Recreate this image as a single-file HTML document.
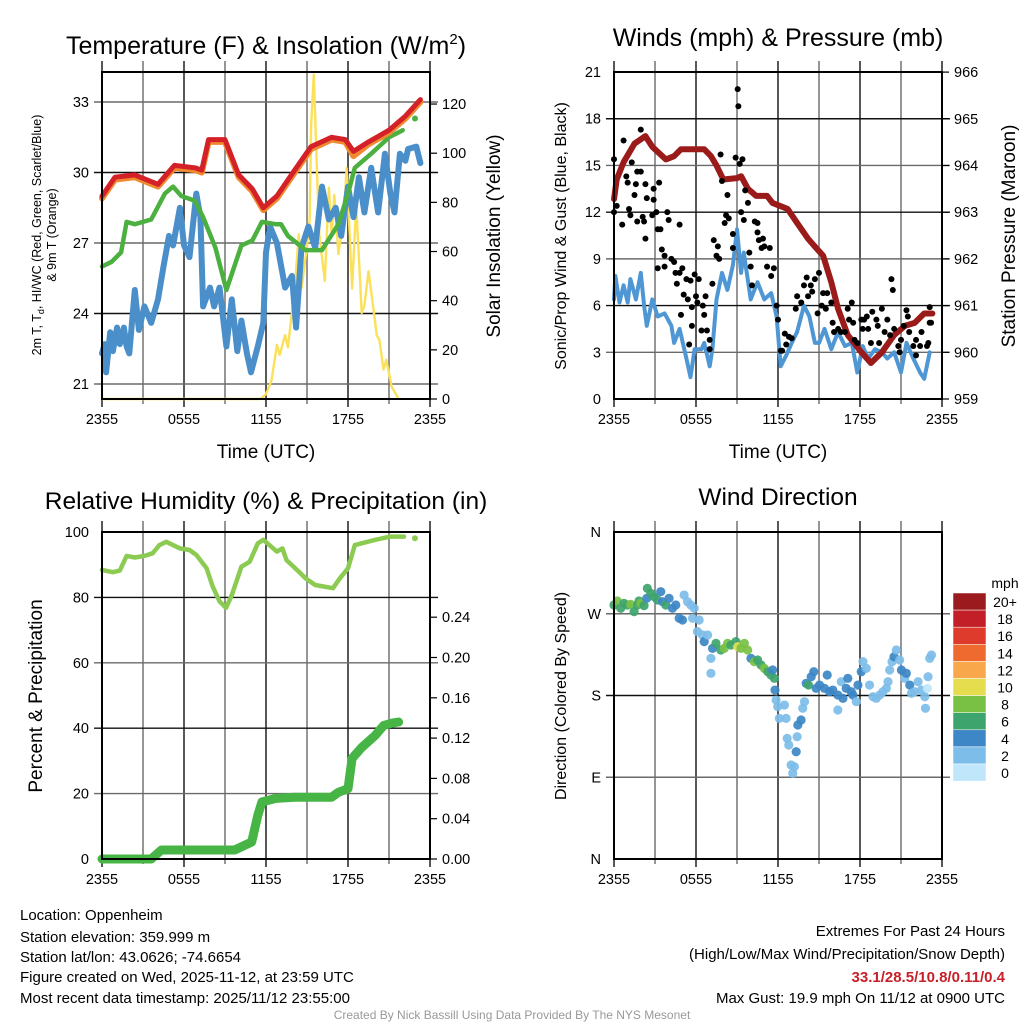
<!DOCTYPE html>
<html><head><meta charset="utf-8"><title>Station Meteogram</title>
<style>
html,body{margin:0;padding:0;background:#fff;}
svg{display:block;font-family:"Liberation Sans",Arial,sans-serif;}
</style></head>
<body>
<svg id="chart" xmlns="http://www.w3.org/2000/svg" width="1024" height="1024" viewBox="0 0 1024 1024">
<rect x="0" y="0" width="1024" height="1024" fill="#fff"/>
<g id="plots"></g>

<!-- titles -->
<text x="266" y="54" font-size="25" text-anchor="middle">Temperature (F) &amp; Insolation (W/m<tspan font-size="15" dy="-10">2</tspan><tspan dy="10">)</tspan></text>
<text x="778" y="46" font-size="25" text-anchor="middle">Winds (mph) &amp; Pressure (mb)</text>
<text x="266" y="509" font-size="24.5" text-anchor="middle">Relative Humidity (%) &amp; Precipitation (in)</text>
<text x="778" y="505" font-size="24.5" text-anchor="middle">Wind Direction</text>

<!-- x axis titles -->
<text x="266" y="458" font-size="19" text-anchor="middle">Time (UTC)</text>
<text x="778" y="458" font-size="19" text-anchor="middle">Time (UTC)</text>

<!-- y axis titles -->
<text transform="translate(41,235) rotate(-90)" font-size="12.5" text-anchor="middle">2m T, T<tspan font-size="9" dy="3">d</tspan><tspan dy="-3">, HI/WC (Red, Green, Scarlet/Blue)</tspan></text>
<text transform="translate(56,235) rotate(-90)" font-size="12.5" text-anchor="middle">&amp; 9m T (Orange)</text>
<text transform="translate(500,236) rotate(-90)" font-size="19" text-anchor="middle">Solar Insolation (Yellow)</text>
<text transform="translate(566,236) rotate(-90)" font-size="16" text-anchor="middle">Sonic/Prop Wind &amp; Gust (Blue, Black)</text>
<text transform="translate(1015,236) rotate(-90)" font-size="19" text-anchor="middle">Station Pressure (Maroon)</text>
<text transform="translate(42,696) rotate(-90)" font-size="19" text-anchor="middle">Percent &amp; Precipitation</text>
<text transform="translate(566,696) rotate(-90)" font-size="16" text-anchor="middle">Direction (Colored By Speed)</text>

<!-- colorbar label -->
<text x="1005" y="588" font-size="14" text-anchor="middle">mph</text>

<!-- info text -->
<g font-size="15">
<text x="20" y="920">Location: Oppenheim</text>
<text x="20" y="942">Station elevation: 359.999 m</text>
<text x="20" y="962">Station lat/lon: 43.0626; -74.6654</text>
<text x="20" y="982">Figure created on Wed, 2025-11-12, at 23:59 UTC</text>
<text x="20" y="1003">Most recent data timestamp: 2025/11/12 23:55:00</text>
</g>
<g font-size="15" text-anchor="end">
<text x="1005" y="936">Extremes For Past 24 Hours</text>
<text x="1005" y="959">(High/Low/Max Wind/Precipitation/Snow Depth)</text>
<text x="1005" y="982" fill="#c8202a" font-weight="bold">33.1/28.5/10.8/0.11/0.4</text>
<text x="1005" y="1003">Max Gust: 19.9 mph On 11/12 at 0900 UTC</text>
</g>
<text x="512" y="1019" font-size="12" fill="#999" text-anchor="middle">Created By Nick Bassill Using Data Provided By The NYS Mesonet</text>

<script>
// ---------- DATA ----------
const xTickLabels = ['2355','0555','1155','1755','2355'];
const xTickHours = [0,6,12,18,24];

const tempTicks = [21,24,27,30,33];
const solarTicks = [0,20,40,60,80,100,120];
const windTicks = [0,3,6,9,12,15,18,21];
const presTicks = [959,960,961,962,963,964,965,966];
const rhTicks = [0,20,40,60,80,100];
const precipTickLabels = ['0.00','0.04','0.08','0.12','0.16','0.20','0.24'];
const dirTickLabels = ['N','E','S','W','N'];
const dirTickValues = [0,90,180,270,360];
const speedBins = ['0','2','4','6','8','10','12','14','16','18','20+'];
const speedColors = ['#bfe6fa','#7dbde9','#3d87c6','#3ea46d','#78c144','#e6dd4e','#f8a84a','#ee6a2e','#df3b2d','#c21f28','#9a1a1e'];

const tHours = [0,0.95,2.4,4.1,5.3,6.8,7.3,7.8,9.0,10.0,11.0,11.8,12.8,14.1,15.3,16.8,17.8,18.4,19.5,21.0,22.2,23.3];
const tValues = [29.0,29.8,29.9,29.5,30.3,30.2,30.1,31.4,31.4,29.9,29.3,28.5,29.0,30.1,31.1,31.5,31.4,30.9,31.3,31.8,32.4,33.1];
const t9Values = [28.9,29.7,29.8,29.4,30.2,30.1,30.0,31.3,31.3,29.8,29.2,28.4,28.9,30.0,31.0,31.4,31.3,30.7,31.2,31.7,32.3,33.0];

const hiHours = [0,0.7,1.4,1.8,2.4,3.6,4.6,5.2,5.8,6.8,7.4,8.3,9.1,10.2,11.0,11.7,12.7,13.1,13.6,14.9,16.1,17.3,18.0,18.5,19.7,21.0,22.0,22.9];
const hiValues = [26.0,26.2,26.6,27.9,27.8,28.0,29.1,29.4,29.0,28.8,28.1,26.8,25.0,26.9,27.1,27.9,27.8,27.8,27.3,26.7,26.7,27.8,29.1,30.2,30.8,31.5,31.8,32.3];

const tdHours = [0,0.2,0.3,0.6,0.8,1.1,1.3,1.6,1.8,2.0,2.4,2.7,3.1,3.6,4.1,4.5,4.9,5.2,5.7,6.0,6.4,6.9,7.2,7.4,7.9,8.2,8.6,9.1,9.5,9.9,10.2,10.6,10.9,11.4,11.8,12.0,12.3,12.8,13.4,13.9,14.2,14.6,15.1,15.6,16.1,16.6,17.1,17.5,18.0,18.4,18.8,19.2,19.7,20.2,20.7,21.1,21.4,21.8,22.2,22.4,23.0,23.3];
const tdValues = [22.3,22.7,21.5,23.2,22.4,23.4,22.7,23.4,22.6,22.3,25.0,23.3,24.3,23.6,24.6,26.0,27.3,26.9,28.5,26.9,26.4,29.1,28.1,24.3,25.1,24.3,25.1,22.6,24.6,22.4,23.7,22.3,21.5,22.6,23.6,26.6,27.7,27.0,25.1,25.6,23.4,26.8,27.7,26.8,29.4,28.0,28.5,27.3,29.4,28.1,29.8,28.3,30.2,28.3,30.8,29.1,28.3,30.8,30.5,31.0,31.1,30.4];

const solarHours = [0,11.6,12.0,12.4,12.8,13.0,13.4,13.6,14.1,14.4,14.6,15.0,15.2,15.3,15.5,15.7,15.9,16.3,16.6,16.8,17.0,17.3,17.7,17.9,18.3,18.6,19.0,19.2,19.5,19.9,20.1,20.3,20.6,20.8,21.2,21.7];
const solarValues = [0,0,2,7.5,22,18,26,21,45,67,45,62,73,111,132,97,67,48,86,67,83,59,74,94,45,79,35,38,52,35,26,24,12,16,5,0];

const windHours = [0,0.1,0.4,0.7,1.0,1.2,1.6,1.96,2.2,2.4,2.8,3.2,3.7,4.2,4.4,4.8,5.3,5.6,5.9,6.4,6.6,7.0,7.2,7.5,7.9,8.3,8.7,9.0,9.3,9.5,10.0,10.5,11.0,11.5,11.9,12.2,12.6,13.0,13.4,13.9,14.3,14.7,15.0,15.4,15.9,16.4,16.9,17.4,17.8,18.2,18.6,19.1,19.6,20.0,20.5,21.0,21.4,21.9,22.4,22.7,23.1];
const windValues = [6.4,7.9,6.2,7.3,6.2,7.7,6.4,8.1,6.0,4.7,6.4,5.3,5.5,4.7,3.6,4.5,2.6,1.4,3.2,3.2,3.6,2.1,3.2,6.4,8.1,7.0,8.6,10.9,8.1,9.4,6.4,7.5,6.4,6.8,5.3,2.1,2.8,3.6,4.3,6.0,5.3,3.6,3.6,4.5,3.2,4.3,3.4,3.6,1.7,3.4,2.6,3.2,3.0,2.6,3.0,1.7,3.6,2.6,1.7,1.3,3.0];

const gustHours = [0,0,0.2,0.6,0.7,0.9,1.0,1.1,1.2,1.3,1.5,1.6,1.7,1.7,1.96,1.96,2.1,2.2,2.3,2.3,2.4,2.8,2.9,2.9,3.1,3.2,3.2,3.3,3.4,3.5,3.7,3.7,3.9,4.0,4.2,4.4,4.5,4.6,4.8,4.8,4.9,5.0,5.1,5.3,5.4,5.5,5.6,5.7,5.7,5.9,6.0,6.1,6.2,6.4,6.5,6.6,6.7,6.8,7.0,7.0,7.2,7.3,7.5,7.6,7.7,7.8,7.9,8.1,8.2,8.3,8.4,8.7,8.7,8.9,9.05,9.1,9.2,9.3,9.4,9.5,9.6,9.8,9.9,10.0,10.1,10.3,10.5,10.5,10.6,10.8,10.9,11.0,11.2,11.4,11.5,11.7,11.9,12.0,12.2,12.3,12.5,12.6,12.8,13.0,13.3,13.4,13.7,13.9,14.1,14.2,14.4,14.5,14.7,14.9,15.0,15.2,15.3,15.5,15.6,15.9,16.0,16.1,16.4,16.6,16.9,17.1,17.2,17.4,17.5,17.6,17.8,18.1,18.2,18.3,18.5,18.6,18.8,18.9,19.2,19.3,19.4,19.6,19.8,20.0,20.2,20.3,20.4,20.5,20.8,20.9,21.0,21.2,21.4,21.5,21.6,21.9,22.1,22.1,22.4,22.5,22.9,23.0,23.1,23.1,23.2];
const gustValues = [15.4,12.0,12.4,11.2,16.6,14.3,13.9,12.2,11.8,15.2,13.1,13.8,14.6,11.4,17.3,14.6,11.7,11.4,10.3,13.8,12.9,11.8,13.5,12.8,12.0,10.9,8.4,13.9,10.9,9.6,9.2,8.5,12.0,11.5,9.0,8.8,8.1,7.4,11.2,8.1,5.4,8.4,6.7,7.7,6.4,3.5,7.6,5.9,4.7,8.0,6.6,6.2,7.7,4.4,6.0,5.4,6.6,4.4,3.8,3.2,7.4,10.2,9.2,9.8,9.0,15.7,14.0,11.3,11.8,13.1,11.6,10.6,9.7,15.5,19.9,18.8,15.1,12.0,15.4,11.5,13.4,12.6,9.4,8.5,7.3,11.4,11.3,10.7,10.2,9.7,10.3,9.8,8.5,9.7,7.9,8.4,6.0,5.1,3.1,3.1,4.2,3.5,4.0,3.9,5.8,6.6,6.2,7.3,7.8,6.6,7.3,6.9,7.7,5.5,8.1,6.0,6.8,5.8,6.8,6.2,4.9,4.3,4.5,4.3,4.3,5.8,5.1,6.2,4.9,3.8,3.6,5.1,4.5,5.1,5.3,4.5,3.6,5.6,5.1,4.7,3.6,5.8,4.3,5.1,4.1,7.7,7.0,4.5,3.4,3.0,3.8,4.7,5.7,5.3,4.3,3.4,3.8,2.8,3.4,4.3,3.4,3.6,5.9,4.9,4.9];

const presHours = [0,0.2,0.7,1.5,2.3,2.8,3.8,4.4,4.9,5.9,6.6,7.1,7.5,8.0,9.0,9.3,9.8,10.4,11.2,11.6,12.7,13.4,14.2,14.9,15.3,15.9,16.4,17.1,18.1,18.8,19.6,20.5,21.3,22.0,22.7,23.3];
const presValues = [963.28,963.7,964.07,964.47,964.63,964.4,964.13,964.2,964.35,964.35,964.35,964.2,964.0,963.7,963.73,963.77,963.5,963.35,963.35,963.2,963.07,962.77,962.43,962.2,962.07,961.5,960.93,960.37,960.0,959.77,960.0,960.37,960.57,960.63,960.83,960.83];

const rhHours = [0,0.8,1.3,1.8,2.4,3.1,3.7,4.2,4.7,5.7,6.4,6.9,7.65,8.1,8.6,9.07,9.5,10.2,10.8,11.4,11.8,12.8,13.2,13.5,14.4,14.9,15.6,16.9,17.4,18.0,18.5,20.0,21.1,22.1];
const rhValues = [88.4,87.7,88.2,92.7,92.2,92.7,93.5,96.0,97.0,95.0,94.5,93.0,88.9,83.3,78.8,76.8,80.7,89.4,90.9,96.5,97.6,94.0,95.0,91.4,87.9,85.8,83.8,82.8,85.8,88.9,96.0,97.6,98.6,98.6];
const rhLastHour = [22.9];
const rhLastValue = [98.1];

const precipHours = [0,3.6,4.35,9.7,10.95,11.4,11.7,12.7,14.1,16.8,17.3,18.0,18.3,19.0,20.0,20.6,21.2,21.7];
const precipValues = [0,0,0.0074,0.0074,0.014,0.036,0.047,0.050,0.051,0.051,0.055,0.058,0.083,0.092,0.102,0.110,0.112,0.113];

const dirHours = [0,0.24,0.49,0.73,0.98,1.22,1.47,1.71,1.83,1.96,2.2,2.4,2.44,2.69,2.93,3.18,3.42,3.55,3.79,4.03,4.28,4.52,4.77,5.01,5.13,5.38,5.62,5.87,5.75,6.23,6.11,6.48,6.6,6.85,7.09,7.09,7.21,7.46,7.82,8.07,8.31,8.56,8.92,9.05,9.29,9.54,9.78,10.02,10.27,10.51,10.76,11.0,11.25,11.49,11.61,11.74,11.78,11.86,11.98,12.1,12.47,12.59,12.67,12.79,12.96,13.08,13.2,13.33,13.4,13.45,13.69,13.81,13.94,14.06,14.23,14.43,14.62,14.79,15.04,15.4,15.6,15.77,16.01,16.38,16.38,16.63,16.75,16.99,17.11,17.36,17.48,17.73,17.85,18.09,18.22,18.46,18.7,18.95,19.19,19.44,19.68,19.93,20.05,20.17,20.34,20.49,20.66,20.9,21.03,21.27,21.39,21.64,21.76,22.0,22.25,22.49,22.74,22.79,22.93,22.98,23.1,23.23];
const dirValues = [279.6,284.0,276.0,281.5,279.6,280.4,272.3,279.6,284.0,281.5,278.9,287.0,298.0,292.5,288.8,285.1,294.3,283.3,279.6,287.0,276.0,279.6,265.0,263.1,290.6,283.3,279.6,276.0,265.0,263.1,250.3,246.6,239.3,246.6,220.9,204.4,231.9,237.4,230.1,231.9,237.4,235.6,239.3,233.7,231.9,237.4,230.1,220.9,217.2,219.1,213.6,209.9,206.2,202.6,208.1,198.9,186.0,175.0,167.7,154.8,169.5,154.8,132.8,125.5,103.5,94.3,101.6,118.1,134.6,147.5,153.0,165.9,173.2,193.4,191.5,200.7,206.2,187.9,191.5,187.9,202.6,184.2,186.0,180.5,164.0,195.2,176.9,187.9,198.9,184.2,180.5,173.2,191.5,206.2,217.2,209.9,191.5,178.7,176.9,180.5,184.2,187.9,195.2,208.1,217.2,222.7,230.1,219.1,208.1,198.9,204.4,191.5,182.4,184.2,195.2,186.0,178.7,165.9,187.9,200.7,220.9,224.6];
const dirSpeeds = [6,8,6,6,6,8,6,6,6,8,6,4,6,6,6,6,4,4,6,4,4,4,4,4,2,2,2,2,2,2,2,2,4,2,2,2,4,6,6,8,8,6,6,10,8,8,8,4,8,6,6,8,6,6,4,6,4,2,2,2,2,2,2,2,2,2,2,4,2,4,4,2,2,4,6,4,4,4,4,4,4,4,4,4,2,2,4,4,4,4,4,2,4,4,2,2,2,2,2,2,2,2,2,2,2,4,2,2,4,2,4,4,2,2,2,2,2,2,0,2,2,2];

// ---------- GEOMETRY / SCALES ----------
const NS = 'http://www.w3.org/2000/svg';
const root = document.getElementById('plots');
function mk(tag, attrs, parent) {
  const e = document.createElementNS(NS, tag);
  for (const k in attrs) e.setAttribute(k, attrs[k]);
  (parent || root).appendChild(e);
  return e;
}
const P1 = {x0:102, x1:430, y0:72, y1:399};
const P2 = {x0:614, x1:942, y0:72, y1:399};
const P3 = {x0:102, x1:430, y0:532, y1:859};
const P4 = {x0:614, x1:942, y0:532, y1:859};
function xs(P, h) { return P.x0 + h * (P.x1 - P.x0) / 24; }
const yTemp = t => 102 + (33 - t) * 23.5;
const ySolar = s => 399 - s * 2.458;
const yWind = w => 399 - w * 15.57;
const yPres = p => 399 - (p - 959) * 46.7;
const yRH = r => 859 - r * 3.27;
const yPrecip = p => 859 - p / 0.04 * 48.5;
const yDir = d => 859 - d / 360 * 327;

function pathFrom(P, hours, vals, yf) {
  let d = '';
  for (let i = 0; i < hours.length; i++) {
    d += (i ? 'L' : 'M') + xs(P, hours[i]).toFixed(1) + ',' + yf(vals[i]).toFixed(1);
  }
  return d;
}

// ---------- GRID / FRAME ----------
function drawGrid(P, name, hYs) {
  const g = mk('g', {});
  
  
  for (let i = 0; i <= 8; i++) {
    const x = P.x0 + i * (P.x1 - P.x0) / 8;
    const l = mk('line', {x1:x, x2:x, y1:P.y0 - 11, y2:P.y1 + (i % 2 === 0 ? 8 : 5), stroke:(i % 2 ? '#6a6a6a' : '#111'), 'stroke-width':1.4}, g);
    
    
  }
  hYs.forEach((y, i) => {
    const l = mk('line', {x1:P.x0 - 8, x2:P.x1 + 8, y1:y, y2:y, stroke:(i % 2 ? '#111' : '#6a6a6a'), 'stroke-width':1.4}, g);
    
    
  });
  xTickHours.forEach((h, i) => {
    const t = mk('text', {x:xs(P, h), y:P.y1 + 25, 'font-size':14.5, 'text-anchor':'middle'}, g);
    t.textContent = xTickLabels[i];
    
    
  });
}
function drawFrame(P, name) {
  const r = mk('rect', {x:P.x0, y:P.y0, width:P.x1 - P.x0, height:P.y1 - P.y0, fill:'none', stroke:'#000', 'stroke-width':2});
  
  
}
function leftLabels(P, labels, ys) {
  labels.forEach((lab, i) => {
    const t = mk('text', {x:P.x0 - 13, y:ys[i] + 5, 'font-size':14.5, 'text-anchor':'end'});
    t.textContent = lab;
    
    
  });
}
function rightLabels(P, labels, ys) {
  labels.forEach((lab, i) => {
    const t = mk('text', {x:P.x1 + 12, y:ys[i] + 5, 'font-size':14.5, 'text-anchor':'start'});
    t.textContent = lab;
    
    
    const tk = mk('line', {x1:P.x1, x2:P.x1 + 7, y1:ys[i], y2:ys[i], stroke:'#000', 'stroke-width':1.2});
    
    
  });
}

// ---------- PANEL 1: TEMPERATURE ----------
drawGrid(P1, 'temperature', tempTicks.map(yTemp));
{
  const sol = mk('path', {d:pathFrom(P1, solarHours, solarValues, ySolar), fill:'none', stroke:'#fbe15a', 'stroke-width':2.4, 'stroke-linejoin':'round'});
  
  
  const td = mk('path', {d:pathFrom(P1, tdHours, tdValues, yTemp), fill:'none', stroke:'#4a8fca', 'stroke-width':6, 'stroke-linejoin':'round', 'stroke-linecap':'round'});
  
  
  const hi = mk('path', {d:pathFrom(P1, hiHours.slice(0, -1), hiValues.slice(0, -1), yTemp), fill:'none', stroke:'#4cb040', 'stroke-width':4.5, 'stroke-linejoin':'round', 'stroke-linecap':'round'});
  
  
  const hiDot = mk('circle', {cx:xs(P1, hiHours[hiHours.length - 1]), cy:yTemp(hiValues[hiValues.length - 1]), r:3, fill:'#4cb040'});
  
  
  const t9 = mk('path', {d:pathFrom(P1, tHours, t9Values, yTemp), fill:'none', stroke:'#f08a30', 'stroke-width':6, 'stroke-linejoin':'round', 'stroke-linecap':'round'});
  
  
  const t2 = mk('path', {d:pathFrom(P1, tHours, tValues, yTemp), fill:'none', stroke:'#d42027', 'stroke-width':5, 'stroke-linejoin':'round', 'stroke-linecap':'round'});
  
  
}
drawFrame(P1, 'temperature');
leftLabels(P1, tempTicks.map(String), tempTicks.map(yTemp));
rightLabels(P1, solarTicks.map(String), solarTicks.map(ySolar));

// ---------- PANEL 2: WINDS ----------
drawGrid(P2, 'winds', windTicks.slice(1, -1).map(yWind));
{
  const w = mk('path', {d:pathFrom(P2, windHours, windValues, yWind), fill:'none', stroke:'#4f97d4', 'stroke-width':4, 'stroke-linejoin':'round', 'stroke-linecap':'round'});
  
  
  const p = mk('path', {d:pathFrom(P2, presHours, presValues, yPres), fill:'none', stroke:'#9b1b1b', 'stroke-width':6, 'stroke-linejoin':'round', 'stroke-linecap':'round'});
  
  
  gustHours.forEach((h, i) => {
    const c = mk('circle', {cx:xs(P2, h), cy:yWind(gustValues[i]), r:3, fill:'#000'});
    
    
  });
}
drawFrame(P2, 'winds');
leftLabels(P2, windTicks.map(String), windTicks.map(yWind));
rightLabels(P2, presTicks.map(String), presTicks.map(yPres));

// ---------- PANEL 3: RH / PRECIP ----------
drawGrid(P3, 'humidity', rhTicks.slice(1, -1).map(yRH));
{
  const rh = mk('path', {d:pathFrom(P3, rhHours, rhValues, yRH), fill:'none', stroke:'#8ccb52', 'stroke-width':4.5, 'stroke-linejoin':'round', 'stroke-linecap':'round'});
  
  
  const rd = mk('circle', {cx:xs(P3, rhLastHour[0]), cy:yRH(rhLastValue[0]), r:3, fill:'#8ccb52'});
  
  
  const pr = mk('path', {d:pathFrom(P3, precipHours, precipValues, yPrecip), fill:'none', stroke:'#46b545', 'stroke-width':9, 'stroke-linejoin':'round', 'stroke-linecap':'round'});
  
  
}
drawFrame(P3, 'humidity');
leftLabels(P3, rhTicks.map(String), rhTicks.map(yRH));
rightLabels(P3, precipTickLabels, precipTickLabels.map((s, i) => 859 - i * 40.3));

// ---------- PANEL 4: WIND DIRECTION ----------
drawGrid(P4, 'direction', dirTickValues.slice(1, -1).map(yDir));
dirHours.forEach((h, i) => {
  const c = mk('circle', {cx:xs(P4, h), cy:yDir(dirValues[i]), r:4.6, fill:speedColors[dirSpeeds[i] >= 20 ? 10 : Math.floor(dirSpeeds[i] / 2)], 'fill-opacity':0.92});
  
  
});
drawFrame(P4, 'direction');
leftLabels(P4, dirTickLabels, dirTickValues.map(yDir));

// colorbar
speedBins.forEach((lab, i) => {
  const k = speedBins.length - 1 - i; // top = highest
  const y = 593 + i * 17.1;
  const r = mk('rect', {x:953, y:y, width:33, height:17.1, fill:speedColors[k], stroke:'#fff', 'stroke-width':0.5});
  
  
  const t = mk('text', {x:1005, y:y + 14, 'font-size':14, 'text-anchor':'middle'});
  t.textContent = speedBins[k];
  
  
});
</script>
</svg>
</body></html>
